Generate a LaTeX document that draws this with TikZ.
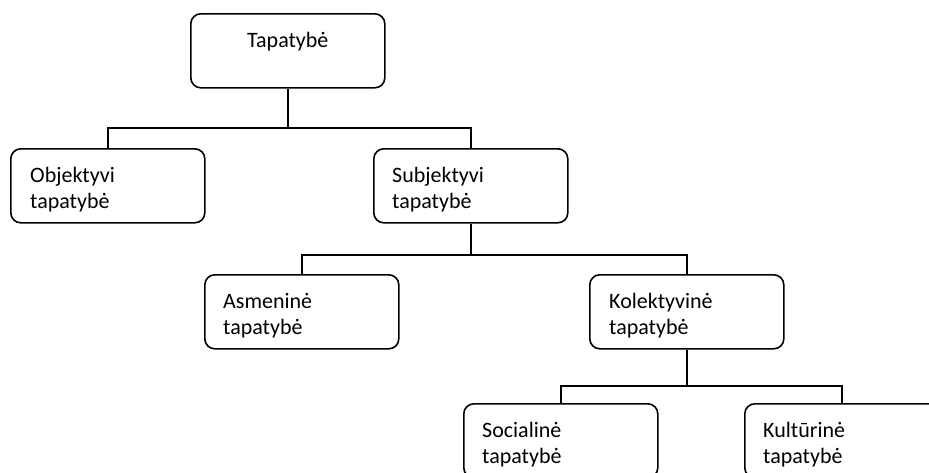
\documentclass[tikz,border=0pt]{standalone}
\usepackage{fontspec}
\setmainfont{Carlito}
\begin{document}
\begin{tikzpicture}[x=1pt,y=-1pt,
  box/.style={draw, rounded corners=10pt, line width=1.6pt, minimum width=194pt, minimum height=74pt, inner sep=0pt, anchor=north west},
  lbl/.style={font=\fontsize{22}{26}\selectfont, align=left, anchor=base west, inner sep=0pt},
  conn/.style={line width=1.6pt}]
\fill[white] (0,0) rectangle (929,472);
\clip (0,0) rectangle (929,472);
% boxes
\node[box] (tap) at (190,13) {};
\node[box] (obj) at (10,148) {};
\node[box] (sub) at (373,148) {};
\node[box] (asm) at (204,274) {};
\node[box] (kol) at (589,274) {};
\node[box] (soc) at (463,403) {};
\node[box] (kul) at (744,403) {};
% labels (base anchor = baseline of the last line)
\node[lbl, anchor=base] (taptx) at ([yshift=-34pt]tap.north) {Tapatybė};
\node[lbl] (objtx) at ([xshift=20pt,yshift=-60pt]obj.north west) {Objektyvi\\tapatybė};
\node[lbl] (subtx) at ([xshift=19pt,yshift=-60pt]sub.north west) {Subjektyvi\\tapatybė};
\node[lbl] (asmtx) at ([xshift=19pt,yshift=-60pt]asm.north west) {Asmeninė\\tapatybė};
\node[lbl] (koltx) at ([xshift=20pt,yshift=-60pt]kol.north west) {Kolektyvinė\\tapatybė};
\node[lbl] (soctx) at ([xshift=19pt,yshift=-60pt]soc.north west) {Socialinė\\tapatybė};
\node[lbl] (kultx) at ([xshift=19pt,yshift=-60pt]kul.north west) {Kultūrinė\\tapatybė};
% bridges
\coordinate (b1) at (0,128);
\coordinate (b2) at (0,255);
\coordinate (b3) at (0,386);
\draw[conn] (tap.south) -- (tap.south |- b1);
\draw[conn] (obj.north) |- (tap.south |- b1) -| (sub.north);
\draw[conn] (sub.south) -- (sub.south |- b2);
\draw[conn] (asm.north) |- (sub.south |- b2) -| (kol.north);
\draw[conn] (kol.south) -- (kol.south |- b3);
\draw[conn] (soc.north) |- (kol.south |- b3) -| (kul.north);
\end{tikzpicture}
\end{document}
